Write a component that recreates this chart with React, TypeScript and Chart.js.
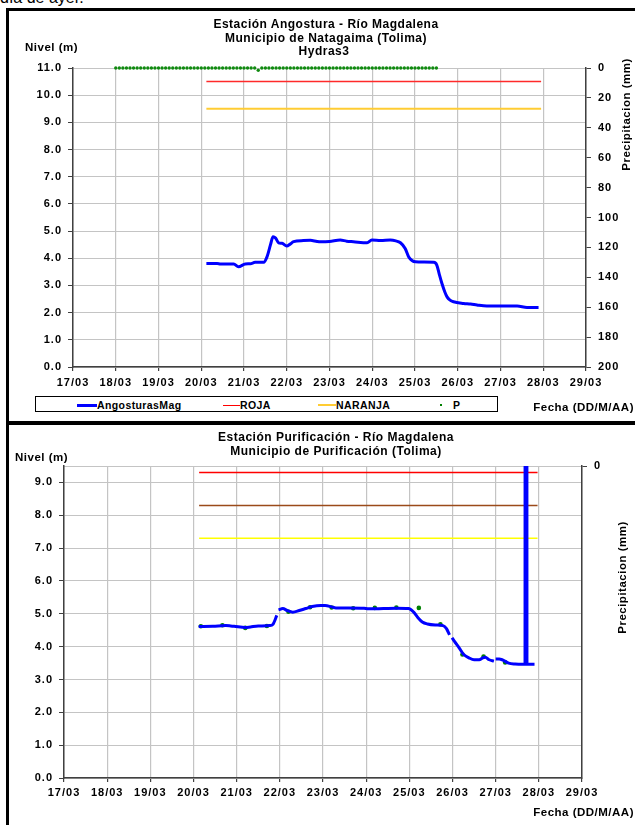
import React, { useEffect, useRef } from "react";
import { Chart, registerables } from "chart.js";

Chart.register(...registerables);

const FONT = '"Liberation Sans", Arial, Helvetica, sans-serif';

// ---------- shared axis labels ----------
const X_TICK_LABELS = ["17/03", "18/03", "19/03", "20/03", "21/03", "22/03", "23/03", "24/03", "25/03", "26/03", "27/03", "28/03", "29/03"];

// ---------- Estación Angostura ----------
const ANG_Y_TICKS = [0, 1, 2, 3, 4, 5, 6, 7, 8, 9, 10, 11];
const ANG_P_TICKS = [0, 20, 40, 60, 80, 100, 120, 140, 160, 180, 200];
// days since 17/03 00:00
const ANG_DAYS = [3.12, 3.37, 3.45, 3.76, 3.87, 4.03, 4.15, 4.26, 4.46, 4.54, 4.62, 4.68, 4.74, 4.81, 4.89, 5.0, 5.08, 5.16, 5.39, 5.55, 5.71, 5.78, 6.0, 6.25, 6.4, 6.56, 6.88, 6.99, 7.2, 7.42, 7.55, 7.66, 7.77, 7.85, 7.93, 8.01, 8.2, 8.44, 8.51, 8.57, 8.63, 8.7, 8.75, 8.82, 8.9, 9.14, 9.3, 9.45, 9.68, 10.0, 10.39, 10.62, 10.89];
const ANG_LEVEL = [3.81, 3.81, 3.79, 3.79, 3.69, 3.79, 3.8, 3.85, 3.85, 4.06, 4.5, 4.79, 4.74, 4.57, 4.55, 4.45, 4.52, 4.61, 4.65, 4.66, 4.62, 4.61, 4.62, 4.67, 4.63, 4.61, 4.57, 4.67, 4.65, 4.67, 4.64, 4.57, 4.36, 4.06, 3.92, 3.87, 3.86, 3.85, 3.75, 3.4, 3.07, 2.75, 2.58, 2.46, 2.4, 2.34, 2.32, 2.28, 2.24, 2.24, 2.24, 2.19, 2.19];
const ANG_ROJA = 10.5;
const ANG_NARANJA = 9.5;
const ANG_ALERT_DAYS = [3.12, 10.95];
// precipitation, hours since 17/03 00:00
const ANG_P_HOURS = [24, 26, 28, 30, 32, 34, 36, 38, 40, 42, 44, 46, 48, 50, 52, 54, 56, 58, 60, 62, 64, 66, 68, 70, 72, 74, 76, 78, 80, 82, 84, 86, 88, 90, 92, 94, 96, 98, 100, 102, 104, 106, 108, 110, 112, 114, 116, 118, 120, 122, 124, 126, 128, 130, 132, 134, 136, 138, 140, 142, 144, 146, 148, 150, 152, 154, 156, 158, 160, 162, 164, 166, 168, 170, 172, 174, 176, 178, 180, 182, 184, 186, 188, 190, 192, 194, 196, 198, 200, 202, 204];
const ANG_P_MM = [0, 0, 0, 0, 0, 0, 0, 0, 0, 0, 0, 0, 0, 0, 0, 0, 0, 0, 0, 0, 0, 0, 0, 0, 0, 0, 0, 0, 0, 0, 0, 0, 0, 0, 0, 0, 0, 0, 0, 0, 1.5, 0, 0, 0, 0, 0, 0, 0, 0, 0, 0, 0, 0, 0, 0, 0, 0, 0, 0, 0, 0, 0, 0, 0, 0, 0, 0, 0, 0, 0, 0, 0, 0, 0, 0, 0, 0, 0, 0, 0, 0, 0, 0, 0, 0, 0, 0, 0, 0, 0, 0];

// ---------- Estación Purificación ----------
const PUR_Y_TICKS = [0, 1, 2, 3, 4, 5, 6, 7, 8, 9];
const PUR_P_TICKS = [0];
const PUR_DAYS = [3.12, 3.45, 3.75, 3.86, 3.94, 4.2, 4.32, 4.5, 4.77, 4.84, 4.93, 4.95, 4.97, 5.07, 5.17, 5.3, 5.45, 5.6, 5.75, 5.95, 6.05, 6.2, 6.3, 6.6, 6.95, 7.05, 7.4, 7.7, 7.98, 8.1, 8.2, 8.3, 8.42, 8.6, 8.78, 8.86, 8.93, 8.96, 8.99, 9.05, 9.15, 9.26, 9.38, 9.5, 9.62, 9.7, 9.76, 9.85, 9.96, 9.98, 10.0, 10.08, 10.15, 10.3, 10.45, 10.62, 10.68, 10.685, 10.72, 10.725, 10.9];
const PUR_LEVEL = [4.61, 4.62, 4.64, 4.63, 4.62, 4.58, 4.6, 4.63, 4.64, 4.68, 4.95, null, 5.12, 5.16, 5.1, 5.05, 5.1, 5.16, 5.22, 5.25, 5.25, 5.21, 5.18, 5.18, 5.17, 5.15, 5.16, 5.17, 5.16, 5.05, 4.88, 4.75, 4.69, 4.66, 4.64, 4.55, 4.36, null, 4.27, 4.15, 3.97, 3.76, 3.66, 3.6, 3.6, 3.66, 3.68, 3.6, 3.56, null, 3.62, 3.62, 3.6, 3.5, 3.47, 3.46, 3.46, 30, 30, 3.46, 3.46];
const PUR_DOT_DAYS = [3.17, 3.67, 4.2, 4.7, 5.2, 5.7, 6.2, 6.7, 7.2, 7.7, 8.22, 8.72, 9.23, 9.72, 10.22];
const PUR_DOT_LEVEL = [4.62, 4.65, 4.57, 4.63, 5.06, 5.2, 5.19, 5.17, 5.18, 5.19, 5.18, 4.68, 3.76, 3.7, 3.52];
const PUR_ROJA = 9.3;
const PUR_NARANJA = 8.3;
const PUR_AMARILLA = 7.3;
const PUR_ALERT_DAYS = [3.13, 10.97];

const tickFont = { family: FONT, size: 11, weight: "bold" as const };
const GRID = "#c4c4c4";
const AXIS = "#404040";

const spacingPlugin = {
  id: "tickSpacing",
  beforeDraw(chart: any) {
    chart.ctx.letterSpacing = "1px";
  },
  afterDraw(chart: any) {
    chart.ctx.letterSpacing = "0px";
  },
};

function xy(xs: number[], ys: (number | null)[], scale = 1) {
  return xs.map((x, i) => ({ x: x * scale, y: ys[i] }));
}

function hLine(days: number[], value: number) {
  return days.map((d) => ({ x: d, y: value }));
}

function buildOptions(p: {
  top: number; yW: number; y2W: number; xH: number; yMax: number; yTicks: number[];
  pMax: number; pTicks: number[]; pGridOnArea: boolean; xPad: number;
}) {
  return {
    animation: false as const,
    responsive: false,
    maintainAspectRatio: false,
    devicePixelRatio: 1,
    layout: { padding: { top: p.top, left: 0, right: 0, bottom: 0 } },
    plugins: { legend: { display: false }, title: { display: false }, tooltip: { enabled: false } },
    scales: {
      x: {
        type: "linear" as const,
        min: 0,
        max: 12,
        afterBuildTicks: (s: any) => {
          s.ticks = X_TICK_LABELS.map((_, i) => ({ value: i }));
        },
        afterFit: (s: any) => {
          s.height = p.xH;
        },
        ticks: {
          callback: (_v: any, i: number) => X_TICK_LABELS[i],
          font: tickFont,
          color: "#000",
          padding: p.xPad,
          maxRotation: 0,
          autoSkip: false,
        },
        grid: { color: GRID, lineWidth: 1.2, tickLength: 4, tickColor: AXIS, drawTicks: true },
        border: { color: AXIS, width: 1.5 },
      },
      y: {
        position: "left" as const,
        min: 0,
        max: p.yMax,
        afterBuildTicks: (s: any) => {
          s.ticks = p.yTicks.map((v) => ({ value: v }));
        },
        afterFit: (s: any) => {
          s.width = p.yW;
        },
        ticks: {
          callback: (v: any) => Number(v).toFixed(1),
          font: tickFont,
          color: "#000",
          padding: 6,
        },
        grid: { color: GRID, lineWidth: 1, tickLength: 5, tickColor: AXIS },
        border: { color: AXIS, width: 1.5 },
      },
      y2: {
        position: "right" as const,
        min: 0,
        max: p.pMax,
        reverse: true,
        afterBuildTicks: (s: any) => {
          s.ticks = p.pTicks.map((v) => ({ value: v }));
        },
        afterFit: (s: any) => {
          s.width = p.y2W;
        },
        ticks: { font: tickFont, color: "#000", padding: 7 },
        grid: { drawOnChartArea: p.pGridOnArea, color: GRID, lineWidth: 1, tickLength: 5, tickColor: AXIS },
        border: { color: AXIS, width: 1.5 },
      },
    },
  };
}

function Label(props: {
  text: string; cy: number; size?: number; left?: number; right?: number; cx?: number;
  ls?: number; weight?: string; rotate?: boolean;
}) {
  const size = props.size ?? 11;
  const lh = Math.round(size * 1.3);
  const style: React.CSSProperties = {
    position: "absolute",
    top: props.cy - lh / 2,
    height: lh,
    lineHeight: lh + "px",
    fontSize: size,
    fontFamily: FONT,
    fontWeight: (props.weight ?? "bold") as any,
    letterSpacing: props.ls ?? 0.5,
    whiteSpace: "nowrap",
    color: "#000",
  };
  if (props.rotate && props.cx !== undefined) {
    style.left = props.cx - 90;
    style.width = 180;
    style.textAlign = "center";
    style.transform = "rotate(-90deg)";
  } else if (props.cx !== undefined) {
    style.left = props.cx - 250;
    style.width = 500;
    style.textAlign = "center";
  } else if (props.right !== undefined) {
    style.right = props.right;
    style.textAlign = "right";
  } else {
    style.left = props.left;
  }
  return <div style={style}>{props.text}</div>;
}

export default function App() {
  const topRef = useRef<HTMLCanvasElement | null>(null);
  const botRef = useRef<HTMLCanvasElement | null>(null);

  useEffect(() => {
    const charts: Chart[] = [];
    if (topRef.current) {
      charts.push(
        new Chart(topRef.current, {
          type: "line",
          data: {
            datasets: [
              {
                label: "AngosturasMag",
                data: xy(ANG_DAYS, ANG_LEVEL),
                borderColor: "#0000ff",
                borderWidth: 3,
                pointRadius: 0,
                cubicInterpolationMode: "monotone",
                yAxisID: "y",
              },
              {
                label: "ROJA",
                data: hLine(ANG_ALERT_DAYS, ANG_ROJA),
                borderColor: "#ff2a2a",
                borderWidth: 1.5,
                pointRadius: 0,
                yAxisID: "y",
              },
              {
                label: "NARANJA",
                data: hLine(ANG_ALERT_DAYS, ANG_NARANJA),
                borderColor: "#ffcc33",
                borderWidth: 2,
                pointRadius: 0,
                yAxisID: "y",
              },
              {
                label: "P",
                data: xy(ANG_P_HOURS, ANG_P_MM, 1 / 24),
                showLine: false,
                pointRadius: 1.7,
                pointBorderWidth: 0,
                pointBackgroundColor: "#108a10",
                borderColor: "#108a10",
                yAxisID: "y2",
                clip: false as any,
              },
            ],
          },
          options: buildOptions({
            top: 68, yW: 73, y2W: 49, xH: 53, yMax: 11, yTicks: ANG_Y_TICKS,
            pMax: 200, pTicks: ANG_P_TICKS, pGridOnArea: false, xPad: 5,
          }) as any,
          plugins: [spacingPlugin],
        })
      );
    }
    if (botRef.current) {
      charts.push(
        new Chart(botRef.current, {
          type: "line",
          data: {
            datasets: [
              {
                label: "PurificacionMag",
                data: xy(PUR_DAYS, PUR_LEVEL),
                borderColor: "#0000ff",
                borderWidth: 3,
                pointRadius: 0,
                spanGaps: false,
                cubicInterpolationMode: "monotone",
                yAxisID: "y",
              },
              {
                label: "Nivel",
                data: xy(PUR_DOT_DAYS, PUR_DOT_LEVEL),
                showLine: false,
                pointRadius: 2.3,
                pointBorderWidth: 0,
                pointBackgroundColor: "#008000",
                borderColor: "#008000",
                yAxisID: "y",
              },
              {
                label: "ROJA",
                data: hLine(PUR_ALERT_DAYS, PUR_ROJA),
                borderColor: "#ff0000",
                borderWidth: 1.5,
                pointRadius: 0,
                yAxisID: "y",
              },
              {
                label: "NARANJA",
                data: hLine(PUR_ALERT_DAYS, PUR_NARANJA),
                borderColor: "#9a4a1a",
                borderWidth: 1.5,
                pointRadius: 0,
                yAxisID: "y",
              },
              {
                label: "AMARILLA",
                data: hLine(PUR_ALERT_DAYS, PUR_AMARILLA),
                borderColor: "#ffff00",
                borderWidth: 1.5,
                pointRadius: 0,
                yAxisID: "y",
              },
            ],
          },
          options: buildOptions({
            top: 41, yW: 64, y2W: 53, xH: 47, yMax: 9.5, yTicks: PUR_Y_TICKS,
            pMax: 100, pTicks: PUR_P_TICKS, pGridOnArea: true, xPad: 4.5,
          }) as any,
          plugins: [spacingPlugin],
        })
      );
    }
    return () => charts.forEach((c) => c.destroy());
  }, []);

  const lineStyle = (left: number, width: number, top: number, h: number, color: string): React.CSSProperties => ({
    position: "absolute", left, width, top: top - h / 2, height: h, background: color,
  });

  return (
    <div style={{ position: "fixed", left: 0, top: 0, width: 635, height: 825, overflow: "hidden", background: "#fff" }}>
      {/* text cut off above the charts */}
      <div style={{ position: "absolute", left: 0, top: -10, fontFamily: FONT, fontSize: 16, lineHeight: "16px", whiteSpace: "nowrap", color: "#000" }}>
        día de ayer.
      </div>

      <canvas ref={topRef} width={635} height={420} style={{ position: "absolute", left: 0, top: 0, width: 635, height: 420 }} />
      <canvas ref={botRef} width={635} height={400} style={{ position: "absolute", left: 0, top: 425, width: 635, height: 400 }} />

      {/* frames */}
      <div style={{ position: "absolute", left: 6, top: 8, width: 700, height: 416, border: "3px solid #000", boxSizing: "border-box" }} />
      <div style={{ position: "absolute", left: 6, top: 422, width: 700, height: 430, border: "3px solid #000", boxSizing: "border-box" }} />

      {/* top chart texts */}
      <Label text="Estación Angostura - Río Magdalena" cx={326} cy={23.5} size={12} />
      <Label text="Municipio de Natagaima (Tolima)" cx={326} cy={37.5} size={12} />
      <Label text="Hydras3" cx={324} cy={51} size={12} />
      <Label text="Nivel (m)" left={25} cy={47} size={11.5} />
      <Label text="Precipitacion (mm)" cx={626} cy={114} size={11.5} rotate />
      <Label text="Fecha (DD/M/AA)" right={1} cy={407} size={11.5} />

      {/* legend */}
      <div style={{ position: "absolute", left: 35, top: 396, width: 463, height: 16, border: "1px solid #000", boxSizing: "border-box", background: "#fff" }} />
      <div style={lineStyle(77, 20, 405, 3, "#0000ff")} />
      <Label text="AngosturasMag" left={97} cy={405} size={10.5} ls={0.4} />
      <div style={lineStyle(223, 17, 405, 1, "#ff0000")} />
      <Label text="ROJA" left={240} cy={405} size={10.5} ls={0.4} />
      <div style={lineStyle(318, 18, 405, 1.5, "#ffcc33")} />
      <Label text="NARANJA" left={336} cy={405} size={10.5} ls={0.4} />
      <div style={lineStyle(440, 2, 405, 2, "#008000")} />
      <Label text="P" left={453} cy={405} size={10.5} ls={0.4} />

      {/* bottom chart texts */}
      <Label text="Estación Purificación - Río Magdalena" cx={336} cy={436.5} size={12} />
      <Label text="Municipio de Purificación (Tolima)" cx={336} cy={450.5} size={12} />
      <Label text="Nivel (m)" left={15} cy={457.5} size={11.5} />
      <Label text="Precipitacion (mm)" cx={622} cy={577} size={11.5} rotate />
      <Label text="Fecha (DD/M/AA)" right={1} cy={812} size={11.5} />
    </div>
  );
}
